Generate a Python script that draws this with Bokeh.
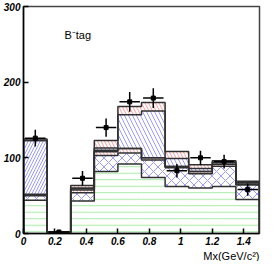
import numpy as np
from bokeh.plotting import figure
from bokeh.models import Range1d, FixedTicker, Label, Title
from bokeh.embed import file_html
from bokeh.resources import INLINE

# ---- data ----
bin_edges = [0.0, 0.15, 0.30, 0.45, 0.60, 0.75, 0.90, 1.05, 1.20, 1.35, 1.50]
green   = [44, 1.0, 43, 82, 92.0, 74, 62.0, 60, 62.0, 45]
cross   = [6, 0.5, 11, 21, 14.5, 23, 25.0, 19, 27.0, 19]
red1    = [2, 0.2, 3.5, 5, 6.0, 3, 1.5, 3, 2.5, 1]
blue_a  = [71, 0.3, 1.5, 2, 0.0, 0, 0.0, 0, 0.0, 0]
blue_b  = [0, 0.0, 1.0, 3, 44.5, 62, 10.5, 4, 2.5, 2]
red2    = [2, 0.0, 3.5, 10, 11.0, 11, 9.5, 5, 2.0, 2]
data_y   = [126, 2, 73, 140, 174, 179, 83, 100, 95, 58]
data_err = [11, 2, 9.5, 12, 13, 13, 9, 9.5, 9, 8]
x_ticks = [0, 0.2, 0.4, 0.6, 0.8, 1.0, 1.2, 1.4]
x_tick_labels = ["0", "0.2", "0.4", "0.6", "0.8", "1", "1.2", "1.4"]
y_ticks = [0, 100, 200, 300]
y_tick_labels = ["0", "100", "200", "300"]
x_title = "Mx(GeV/c\u00b2)"
tag_text = "B\u207btag"

edges = np.array(bin_edges)
left, right = edges[:-1], edges[1:]
centers = (left + right) / 2

p = figure(width=261, height=261, output_backend="svg", toolbar_location=None,
           x_range=Range1d(0, 1.5), y_range=Range1d(0, 300),
           min_border_left=4, min_border_right=2, min_border_top=6, min_border_bottom=0)
p.background_fill_color = "white"
p.border_fill_color = "white"
p.grid.visible = False
p.outline_line_color = "#444444"
p.outline_line_width = 1.5

layers = [
    (green,  "horizontal_line",     "#a6eaa6", 6.5),
    (cross,  "diagonal_cross",      "#9a9aff", 9),
    (red1,   "left_diagonal_line",  "#ff9a9a", 7),
    (blue_a, "right_diagonal_line", "#9a9aff", 6),
    (blue_b, "left_diagonal_line",  "#9a9aff", 8),
    (red2,   "left_diagonal_line",  "#ff9a9a", 7),
]
bottom = np.zeros(len(centers))
levels = []
for vals, pat, col, sc in layers:
    top = bottom + np.array(vals, dtype=float)
    p.quad(left=left, right=right, bottom=bottom, top=top, fill_alpha=0,
           line_color=None, hatch_pattern=pat, hatch_color=col,
           hatch_scale=sc, hatch_weight=1)
    levels.append(top)
    bottom = top

for lev in levels:
    xs = np.concatenate([[edges[0]], edges])
    ys = np.concatenate([[0], lev, [0]])
    p.step(x=xs, y=ys, mode="after", line_color="#303030", line_width=1.5)

dy = np.array(data_y, dtype=float)
de = np.array(data_err, dtype=float)
p.segment(x0=centers, y0=dy - de, x1=centers, y1=dy + de, line_color="black", line_width=1.5)
p.segment(x0=left + 0.01, y0=dy, x1=right - 0.01, y1=dy, line_color="black", line_width=1.5)
p.scatter(x=centers, y=dy, marker="square", size=4, color="black")

for ax in (p.xaxis[0], p.yaxis[0]):
    ax.major_tick_in = 5
    ax.major_tick_out = 0
    ax.minor_tick_line_color = None
    ax.major_tick_line_width = 1.5
    ax.axis_line_width = 1.5
    ax.axis_line_color = "black"
    ax.major_label_text_font = "Liberation Sans"
    ax.major_label_text_font_style = "bold italic"
    ax.major_label_text_font_size = "10px"
    ax.major_label_text_color = "black"
    ax.major_label_standoff = 3

p.xaxis.ticker = FixedTicker(ticks=x_ticks)
p.xaxis.major_label_overrides = {t: s for t, s in zip(x_ticks, x_tick_labels)}
p.yaxis.ticker = FixedTicker(ticks=y_ticks)
p.yaxis.major_label_overrides = {t: s for t, s in zip(y_ticks, y_tick_labels)}

p.add_layout(Title(text=x_title, align="right", text_font="Liberation Sans",
                   text_font_size="11px", text_font_style="normal", text_color="black",
                   standoff=0, offset=0), "below")
p.add_layout(Label(x=0.26, y=262, text=tag_text, text_align="left", text_baseline="alphabetic",
                   text_font="Liberation Sans", text_font_size="11px", text_color="black"))

open("out.html", "w").write(file_html(p, INLINE))
